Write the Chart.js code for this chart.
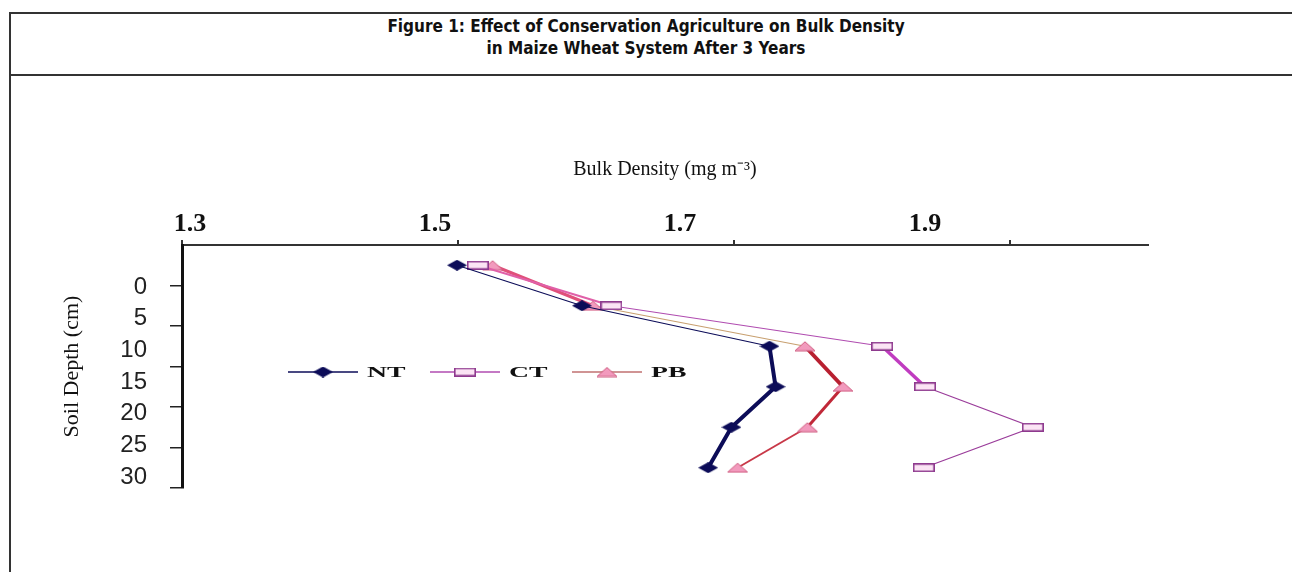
<!DOCTYPE html>
<html>
<head>
<meta charset="utf-8">
<script src="https://cdn.jsdelivr.net/npm/chart.js@4.4.1/dist/chart.umd.min.js"></script>
<style>
  body { margin: 0; background: #fff; overflow: hidden; }
  #frame { position: absolute; left: 9px; top: 12px; width: 1290px; height: 562px; border-left: 2px solid #333; border-top: 2px solid #333; }
  #rule { position: absolute; left: 9px; top: 74px; width: 1292px; border-top: 2px solid #333; }
  #heading { position: absolute; left: 0; top: 15px; width: 1292px; text-align: center; font: bold 17px "DejaVu Sans Condensed", "DejaVu Sans"; line-height: 22px; color: #111; }
  #chart { position: absolute; left: 0; top: 0; }
</style>
</head>
<body>
<div id="frame"></div>
<div id="rule"></div>
<div id="heading">Figure 1: Effect of Conservation Agriculture on Bulk Density<br>in Maize Wheat System After 3 Years</div>
<canvas id="chart" width="1292" height="572"></canvas>
<script>
// depth of each sampled layer (cm, layer midpoints) and bulk density per tillage
var depths = [2.5, 7.5, 12.5, 17.5, 22.5, 27.5];
var ntValues = [1.518, 1.620, 1.773, 1.778, 1.742, 1.723];
var ctValues = [1.535, 1.644, 1.865, 1.900, 1.988, 1.899];
var pbValues = [1.547, 1.629, 1.802, 1.833, 1.804, 1.747];

var densityTicks = [1.3, 1.5, 1.7, 1.9];
var depthTicks = [0, 5, 10, 15, 20, 25, 30];

function toPoints(values) {
    return values.map(function (v, i) {
        return { x: v, y: depths[i] };
    });
}

function makeMarker(w, h, draw) {
    var c = document.createElement("canvas");
    c.width = w;
    c.height = h;
    draw(c.getContext("2d"), w, h);
    return c;
}

var diamond = makeMarker(20, 11, function (ctx, w, h) {
    ctx.fillStyle = "#0c0c58";
    ctx.beginPath();
    ctx.moveTo(0, h / 2);
    ctx.lineTo(w / 2, 0);
    ctx.lineTo(w, h / 2);
    ctx.lineTo(w / 2, h);
    ctx.closePath();
    ctx.fill();
});

var box = makeMarker(22, 9, function (ctx, w, h) {
    ctx.fillStyle = "#fbe4f4";
    ctx.fillRect(0, 0, w, h);
    ctx.strokeStyle = "#8e3a8e";
    ctx.lineWidth = 1.6;
    ctx.strokeRect(0.8, 0.8, w - 1.6, h - 1.6);
});

var triangle = makeMarker(22, 11, function (ctx, w, h) {
    ctx.fillStyle = "#f29abd";
    ctx.strokeStyle = "#cf5c80";
    ctx.lineWidth = 1;
    ctx.beginPath();
    ctx.moveTo(1, h - 1);
    ctx.lineTo(w / 2, 1);
    ctx.lineTo(w - 1, h - 1);
    ctx.closePath();
    ctx.fill();
    ctx.stroke();
});

// line look of each segment (the scan has thin and heavy pieces)
var ntWidths = [1.2, 1.2, 4, 4, 4];
var ntColors = ["#0c0c58", "#0c0c58", "#0c0c58", "#0c0c58", "#0c0c58"];
var ctWidths = [2, 1.2, 3.5, 1.2, 1.2];
var ctColors = ["#e060a8", "#b04cb0", "#c03cc0", "#9a3c9a", "#9a3c9a"];
var pbWidths = [3, 1.2, 4, 3, 2];
var pbColors = ["#e0507a", "#c8a070", "#b82030", "#c02838", "#c83848"];

function series(label, values, marker, widths, colors, legendColor) {
    return {
        label: label,
        data: toPoints(values),
        xAxisID: "xl",
        yAxisID: "y",
        showLine: true,
        pointStyle: marker,
        pointRadius: 5,
        borderColor: legendColor,
        legendColor: legendColor,
        borderWidth: 1.5,
        segment: {
            borderWidth: function (c) { return widths[c.p0DataIndex]; },
            borderColor: function (c) { return colors[c.p0DataIndex]; }
        }
    };
}

var inlineLegend = {
    id: "inlineLegend",
    afterDatasetsDraw: function (chart) {
        var ctx = chart.ctx;
        var x = 288;
        var y = 372;
        chart.data.datasets.forEach(function (ds) {
            var m = ds.pointStyle;
            ctx.save();
            ctx.strokeStyle = ds.legendColor;
            ctx.lineWidth = 1.5;
            ctx.beginPath();
            ctx.moveTo(x, y);
            ctx.lineTo(x + 70, y);
            ctx.stroke();
            ctx.drawImage(m, x + 35 - m.width / 2, y - m.height / 2);
            ctx.fillStyle = "#111";
            ctx.font = 'bold 15px "Liberation Serif"';
            ctx.textBaseline = "middle";
            ctx.translate(x + 79, y + 1);
            ctx.scale(1.85, 1);
            ctx.fillText(ds.label, 0, 0);
            ctx.restore();
            x += 142;
        });
    }
};

function setTicks(values) {
    return function (scale) {
        scale.ticks = values.map(function (v) { return { value: v }; });
    };
}

new Chart(document.getElementById("chart"), {
    type: "scatter",
    data: {
        datasets: [
            series("NT", ntValues, diamond, ntWidths, ntColors, "#0c0c58"),
            series("CT", ctValues, box, ctWidths, ctColors, "#b04cb0"),
            series("PB", pbValues, triangle, pbWidths, pbColors, "#c07070")
        ]
    },
    plugins: [inlineLegend],
    options: {
        responsive: false,
        animation: false,
        events: [],
        devicePixelRatio: 1,
        layout: {
            padding: { left: 55, top: 154, right: 144, bottom: 84 }
        },
        scales: {
            xl: {
                type: "linear",
                axis: "x",
                position: "top",
                weight: 1,
                min: 1.2935,
                max: 2.082,
                afterBuildTicks: setTicks(densityTicks),
                afterFit: function (s) { s.height = 86; },
                grid: { display: false, drawTicks: false },
                border: { display: false },
                ticks: {
                    padding: 0,
                    autoSkip: false,
                    maxRotation: 0,
                    color: "#111",
                    font: { family: '"Liberation Serif"', size: 26, weight: "bold" },
                    callback: function (v) { return v.toFixed(1); }
                },
                title: {
                    display: true,
                    text: "Bulk Density (mg m⁻³)",
                    color: "#111",
                    font: { family: '"Liberation Serif"', size: 20 },
                    padding: { top: 4, bottom: 0 }
                }
            },
            x: {
                type: "linear",
                position: "top",
                weight: 0,
                min: 1.3,
                max: 2.0,
                afterBuildTicks: setTicks(densityTicks),
                afterFit: function (s) { s.height = 5; },
                grid: { drawOnChartArea: false, drawTicks: true, tickLength: 5, color: "#333", lineWidth: 2 },
                border: { display: true, color: "#333", width: 2 },
                ticks: { display: false }
            },
            yl: {
                type: "linear",
                axis: "y",
                position: "left",
                weight: 1,
                reverse: true,
                min: -6.63,
                max: 31.74,
                afterBuildTicks: setTicks(depthTicks),
                afterFit: function (s) { s.width = 115; },
                grid: { display: false, drawTicks: false },
                border: { display: false },
                ticks: {
                    padding: 23,
                    autoSkip: false,
                    color: "#222",
                    font: { family: '"Liberation Sans"', size: 24 }
                },
                title: {
                    display: true,
                    text: "Soil Depth (cm)",
                    color: "#111",
                    font: { family: '"Liberation Serif"', size: 22 },
                    padding: { top: 4, bottom: 0 }
                }
            },
            y: {
                type: "linear",
                position: "left",
                weight: 0,
                reverse: true,
                min: 0,
                max: 30,
                afterBuildTicks: setTicks(depthTicks),
                afterFit: function (s) { s.width = 12; },
                grid: {
                    drawOnChartArea: false,
                    drawTicks: true,
                    tickLength: 12,
                    lineWidth: 1.5,
                    color: function (c) { return c.tick && c.tick.value === 0 ? "rgba(0,0,0,0)" : "#222"; }
                },
                border: { display: true, color: "#111", width: 3 },
                ticks: { display: false }
            }
        },
        plugins: {
            legend: { display: false },
            tooltip: { enabled: false }
        }
    }
});
</script>
</body>
</html>
